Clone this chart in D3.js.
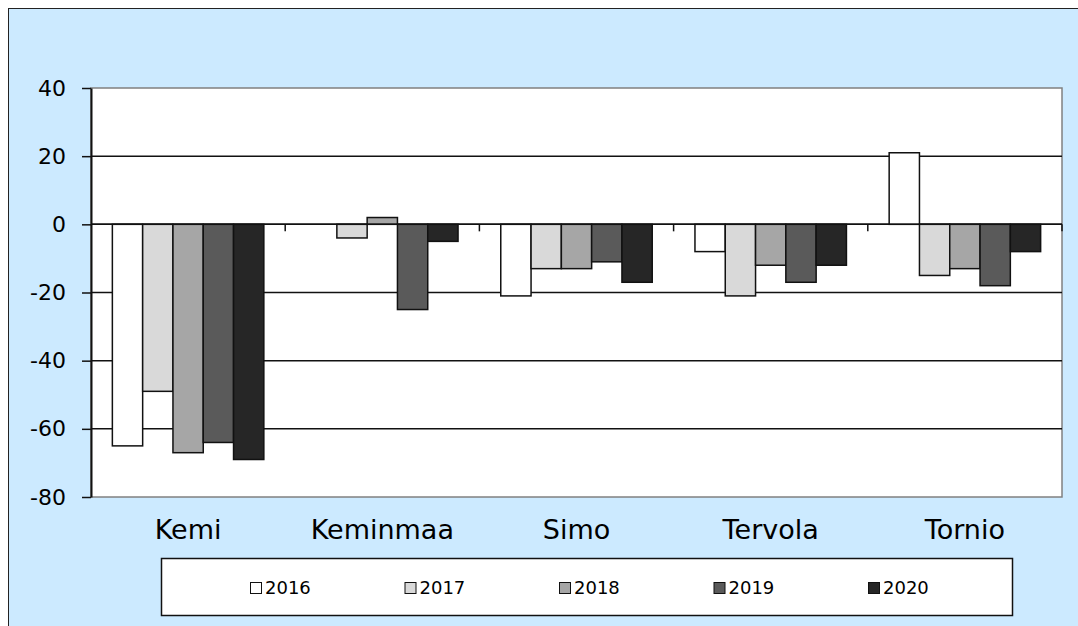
<!DOCTYPE html>
<html>
<head>
<meta charset="utf-8">
<script src="https://cdn.jsdelivr.net/npm/d3@7"></script>
<style>
  body { margin: 0; background: #fff; }
  svg { display: block; font-family: "DejaVu Sans", sans-serif; }
</style>
</head>
<body>
<div id="chart"></div>
<script>
// municipalities and years
const places = ["Kemi", "Keminmaa", "Simo", "Tervola", "Tornio"];
const years = ["2016", "2017", "2018", "2019", "2020"];

// one array per year, in the order of places
const v2016 = [-65, 0, -21, -8, 21];
const v2017 = [-49, -4, -13, -21, -15];
const v2018 = [-67, 2, -13, -12, -13];
const v2019 = [-64, -25, -11, -17, -18];
const v2020 = [-69, -5, -17, -12, -8];
const series = [v2016, v2017, v2018, v2019, v2020];

const yTicks = [-80, -60, -40, -20, 0, 20, 40];
const fills = ["#ffffff", "#d9d9d9", "#a6a6a6", "#5a5a5a", "#262626"];

const W = 1078, H = 626;
const plot = { left: 91, right: 1062, top: 88, bottom: 497 };

const svg = d3.select("#chart").append("svg")
  .attr("width", W)
  .attr("height", H);

// chart area
svg.append("rect")
  .attr("x", 8.5).attr("y", 8.5)
  .attr("width", W + 20).attr("height", H + 20)
  .attr("fill", "#cceaff")
  .attr("stroke", "#222")
  .attr("stroke-width", 1);

// plot area
svg.append("rect")
  .attr("x", plot.left).attr("y", plot.top)
  .attr("width", plot.right - plot.left)
  .attr("height", plot.bottom - plot.top)
  .attr("fill", "#fff")
  .attr("stroke", "#808080")
  .attr("stroke-width", 1.5);

const y = d3.scaleLinear().domain([-80, 40]).range([plot.bottom, plot.top]);
const x0 = d3.scaleBand().domain(places).range([plot.left, plot.right]).padding(0);
const gap = x0.bandwidth() * 0.11;
const x1 = d3.scaleBand().domain(years).range([gap, x0.bandwidth() - gap]).padding(0);

// gridlines
svg.append("g")
  .selectAll("line")
  .data(yTicks.filter(t => t !== 40 && t !== -80))
  .join("line")
  .attr("x1", plot.left).attr("x2", plot.right)
  .attr("y1", d => y(d)).attr("y2", d => y(d))
  .attr("stroke", "#111")
  .attr("stroke-width", 1.5);

// bars
const rows = [];
places.forEach((p, i) => {
  years.forEach((yr, j) => rows.push({ place: p, year: yr, idx: j, value: series[j][i] }));
});

svg.append("g")
  .selectAll("rect")
  .data(rows.filter(d => d.value !== 0))
  .join("rect")
  .attr("x", d => x0(d.place) + x1(d.year))
  .attr("width", x1.bandwidth())
  .attr("y", d => y(Math.max(0, d.value)))
  .attr("height", d => Math.abs(y(d.value) - y(0)))
  .attr("fill", d => fills[d.idx])
  .attr("stroke", "#111")
  .attr("stroke-width", 1.5);

// x axis at zero with ticks between categories
const xAxis = svg.append("g");
xAxis.append("line")
  .attr("x1", plot.left).attr("x2", plot.right)
  .attr("y1", y(0)).attr("y2", y(0))
  .attr("stroke", "#111").attr("stroke-width", 1.5);
xAxis.selectAll("line.tk")
  .data(places.slice(1).map(p => x0(p)).concat([plot.right]))
  .join("line")
  .attr("class", "tk")
  .attr("x1", d => d).attr("x2", d => d)
  .attr("y1", y(0)).attr("y2", y(0) + 7)
  .attr("stroke", "#111").attr("stroke-width", 1.5);

// y axis (plain hyphen for negatives, like the original)
const yAxis = svg.append("g")
  .attr("transform", `translate(${plot.left},0)`)
  .call(d3.axisLeft(y).tickValues(yTicks).tickFormat(d => String(d))
    .tickSize(9).tickPadding(16).tickSizeOuter(0));
yAxis.select(".domain").attr("stroke", "#111").attr("stroke-width", 2);
yAxis.selectAll(".tick line").attr("stroke", "#111").attr("stroke-width", 1.5);
yAxis.selectAll(".tick text")
  .attr("fill", "#000")
  .style("font-size", "22px")
  .style("font-family", "'DejaVu Sans', sans-serif");

// category labels
svg.append("g")
  .selectAll("text")
  .data(places)
  .join("text")
  .attr("x", d => x0(d) + x0.bandwidth() / 2)
  .attr("y", 539)
  .attr("text-anchor", "middle")
  .style("font-size", "27px")
  .attr("fill", "#000")
  .text(d => d);

// legend
const legend = svg.append("g");
legend.append("rect")
  .attr("x", 161.5).attr("y", 558.5)
  .attr("width", 851).attr("height", 57)
  .attr("fill", "#fff")
  .attr("stroke", "#111")
  .attr("stroke-width", 1.5);

const lx = d3.scalePoint().domain(years).range([250, 868]);
const items = legend.selectAll("g.item")
  .data(years)
  .join("g")
  .attr("class", "item")
  .attr("transform", d => `translate(${lx(d)},0)`);
items.append("rect")
  .attr("x", 0.5).attr("y", 582.5)
  .attr("width", 11).attr("height", 11)
  .attr("fill", (d, i) => fills[i])
  .attr("stroke", "#111")
  .attr("stroke-width", 1);
items.append("text")
  .attr("x", 15).attr("y", 594)
  .style("font-size", "18px")
  .attr("fill", "#000")
  .text(d => d);
</script>
</body>
</html>
